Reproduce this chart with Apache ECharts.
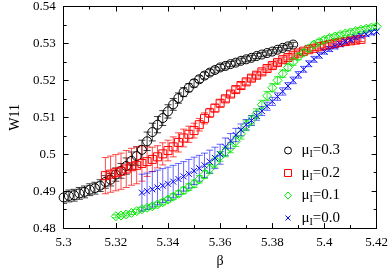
<!DOCTYPE html>
<html><head><meta charset="utf-8">
<script src="https://cdn.jsdelivr.net/npm/echarts@6/dist/echarts.min.js"></script>
<style>html,body{margin:0;padding:0;background:#fff}#c{width:391px;height:273px}</style>
</head><body><div id="c"></div>
<script>
// beta grids: start and step (0.002) per series
const betaStep = 0.002;
const blackStart = 5.300, redStart = 5.316, greenStart = 5.320, blueStart = 5.330;

const blackW = [0.4883,0.4887,0.4889,0.4894,0.4898,0.4904,0.4908,0.4915,0.4925,0.4931,
  0.4945,0.4955,0.4968,0.4982,0.4995,0.5012,0.5035,0.5060,0.5080,0.5098,
  0.5116,0.5135,0.5152,0.5168,0.5180,0.5192,0.5203,0.5213,0.5221,0.5228,
  0.5235,0.5239,0.5244,0.5248,0.5253,0.5257,0.5261,0.5266,0.5270,0.5274,
  0.5278,0.5283,0.5288,0.5292,0.5297];
const blackErr = [0.0016,0.0016,0.0016,0.0016,0.0016,0.0016,0.0016,0.0016,0.0017,0.0017,
  0.0018,0.0020,0.0022,0.0024,0.0025,0.0026,0.0025,0.0024,0.0022,0.0020,
  0.0018,0.0016,0.0014,0.0012,0.0011,0.0010,0.0009,0.0009,0.0008,0.0008,
  0.0008,0.0008,0.0007,0.0007,0.0007,0.0007,0.0007,0.0007,0.0006,0.0006,
  0.0006,0.0006,0.0006,0.0006,0.0006];

const redW = [0.4942,0.4946,0.4950,0.4954,0.4960,0.4966,0.4970,0.4975,
  0.4980,0.4986,0.4993,0.5001,0.5010,0.5020,0.5032,0.5044,0.5054,0.5064,
  0.5080,0.5097,0.5112,0.5125,0.5138,0.5150,0.5163,0.5175,0.5186,0.5196,
  0.5206,0.5214,0.5223,0.5232,0.5240,0.5248,0.5256,0.5262,0.5268,0.5274,
  0.5279,0.5283,0.5287,0.5291,0.5294,0.5297,0.5300,0.5303,0.5305,0.5307,
  0.5309,0.5311];
const redErr = [0.0049,0.0049,0.0049,0.0049,0.0050,0.0050,0.0050,0.0048,
  0.0040,0.0033,0.0030,0.0030,0.0028,0.0027,0.0026,0.0024,0.0022,0.0020,
  0.0017,0.0015,0.0012,0.0010,0.0009,0.0008,0.0008,0.0008,0.0008,0.0008,
  0.0008,0.0008,0.0007,0.0007,0.0007,0.0007,0.0007,0.0007,0.0006,0.0006,
  0.0006,0.0006,0.0006,0.0006,0.0006,0.0006,0.0006,0.0006,0.0006,0.0006,
  0.0006,0.0006];

const greenW = [0.4832,0.4834,0.4837,0.4841,0.4846,0.4851,
  0.4855,0.4859,0.4864,0.4870,0.4877,
  0.4885,0.4893,0.4902,0.4911,0.4920,
  0.4932,0.4945,0.4960,0.4977,0.4994,
  0.5006,0.5018,0.5035,0.5055,0.5078,
  0.5092,0.5110,0.5134,0.5158,0.5180,
  0.5200,0.5218,0.5235,0.5250,0.5264,
  0.5275,0.5287,0.5297,0.5304,0.5310,
  0.5315,0.5319,0.5323,0.5327,0.5330,
  0.5334,0.5337,0.5340,0.5343,0.5346];
const greenErr = [0.0004,0.0004,0.0004,0.0004,0.0005,0.0005,
  0.0005,0.0006,0.0006,0.0007,0.0007,
  0.0008,0.0008,0.0009,0.0009,0.0010,
  0.0010,0.0011,0.0012,0.0012,0.0013,
  0.0013,0.0014,0.0014,0.0014,0.0014,
  0.0013,0.0013,0.0012,0.0012,0.0011,
  0.0010,0.0010,0.0009,0.0009,0.0008,
  0.0008,0.0008,0.0007,0.0007,0.0007,
  0.0007,0.0006,0.0006,0.0006,0.0006,
  0.0006,0.0006,0.0006,0.0006,0.0006];

const blueW = [0.4896,0.4900,0.4905,0.4910,0.4915,0.4920,
  0.4926,0.4933,0.4940,0.4947,0.4955,
  0.4962,0.4970,0.4980,0.4990,0.5000,
  0.5020,0.5036,0.5052,0.5066,0.5080,
  0.5091,0.5104,0.5117,0.5130,0.5143,
  0.5156,0.5170,0.5185,0.5200,0.5215,
  0.5230,0.5245,0.5257,0.5268,0.5278,
  0.5285,0.5292,0.5298,0.5305,0.5310,
  0.5316,0.5321,0.5325,0.5329,0.5332];
const blueErr = [0.0050,0.0049,0.0048,0.0047,0.0046,0.0045,
  0.0044,0.0042,0.0040,0.0039,0.0037,
  0.0035,0.0033,0.0031,0.0029,0.0027,
  0.0024,0.0020,0.0018,0.0016,0.0014,
  0.0013,0.0012,0.0012,0.0011,0.0011,
  0.0010,0.0010,0.0009,0.0009,0.0009,
  0.0008,0.0008,0.0008,0.0008,0.0007,
  0.0007,0.0007,0.0007,0.0007,0.0006,
  0.0006,0.0006,0.0006,0.0006,0.0006];

const legendNames = ['0.3','0.2','0.1','0.0'];
const xTicks = {min:5.30, max:5.42, interval:0.02};
const yTicks = {min:0.48, max:0.54, interval:0.01};

function build(start, W, E){
  return W.map((w,i)=>[+(start + i*betaStep).toFixed(3), w, E[i]]);
}
const xPath = 'path://M0,0L10,10M10,0L0,10';
const xLegendPath = 'path://M-2,-2L-2,-1.99M0,0L10,10M10,0L0,10M12,12L12,12.01';
const sets = [
  {name:'mu03', data:build(blackStart,blackW,blackErr), color:'#000000', bar:'rgba(0,0,0,0.75)', symbol:'circle', icon:'circle', size:9},
  {name:'mu02', data:build(redStart,redW,redErr), color:'#ff0000', bar:'rgba(255,0,0,0.7)', symbol:'rect', icon:'rect', size:8},
  {name:'mu01', data:build(greenStart,greenW,greenErr), color:'#00ee00', bar:'rgba(0,220,0,0.7)', symbol:'diamond', icon:'diamond', size:9},
  {name:'mu00', data:build(blueStart,blueW,blueErr), color:'#0000ff', bar:'rgba(0,0,255,0.6)', symbol:xPath, icon:xLegendPath, size:6}
];

function errRender(color){
  return function(params, api){
    const x = api.value(0), y = api.value(1), e = api.value(2);
    const t = api.coord([x, y+e]), b = api.coord([x, y-e]);
    const hw = 3.5;
    const st = {stroke:color, lineWidth:1, fill:null};
    return {type:'group', children:[
      {type:'line', shape:{x1:t[0],y1:t[1],x2:b[0],y2:b[1]}, style:st},
      {type:'line', shape:{x1:t[0]-hw,y1:t[1],x2:t[0]+hw,y2:t[1]}, style:st},
      {type:'line', shape:{x1:b[0]-hw,y1:b[1],x2:b[0]+hw,y2:b[1]}, style:st}
    ]};
  };
}

const series = [];
sets.forEach((s)=>{
  series.push({type:'custom', name:s.name+'err', data:s.data, renderItem:errRender(s.bar),
    encode:{x:0,y:1}, silent:true, clip:true});
  series.push({type:'scatter', name:s.name, data:s.data.map(d=>[d[0],d[1]]), symbol:s.symbol, symbolSize:s.size,
    itemStyle:{color:'rgba(0,0,0,0)', borderColor:s.color, borderWidth:1, opacity:1}, silent:true});
});

const fmt = v => String(parseFloat(v.toFixed(2)));
const serif = 'Liberation Serif';
const baseX = {type:'value', min:xTicks.min, max:xTicks.max, interval:xTicks.interval,
  axisLine:{show:true, onZero:false, lineStyle:{color:'#000', width:1}},
  axisTick:{inside:true, length:5, lineStyle:{color:'#000'}},
  minorTick:{show:true, splitNumber:2, length:3, lineStyle:{color:'#000'}},
  splitLine:{show:false}};
const baseY = {type:'value', min:yTicks.min, max:yTicks.max, interval:yTicks.interval,
  axisLine:{show:true, onZero:false, lineStyle:{color:'#000', width:1}},
  axisTick:{inside:true, length:5, lineStyle:{color:'#000'}},
  minorTick:{show:true, splitNumber:2, length:3, lineStyle:{color:'#000'}},
  splitLine:{show:false}};

const chart = echarts.init(document.getElementById('c'), null, {renderer:'canvas'});
chart.setOption({
  animation:false,
  grid:{left:45, right:14, top:6, bottom:33},
  xAxis:[
    Object.assign({}, baseX, {position:'bottom', name:'β', nameLocation:'middle', nameGap:20,
      nameTextStyle:{fontFamily:serif, fontSize:14, color:'#000'},
      axisLabel:{formatter:fmt, fontFamily:serif, fontSize:13, color:'#000', margin:8}}),
    Object.assign({}, baseX, {position:'top', axisLabel:{show:false}})
  ],
  yAxis:[
    Object.assign({}, baseY, {position:'left', name:'W11', nameLocation:'middle', nameGap:36, nameRotate:90,
      nameTextStyle:{fontFamily:serif, fontSize:14, color:'#000'},
      axisLabel:{formatter:fmt, fontFamily:serif, fontSize:13, color:'#000', margin:8}}),
    Object.assign({}, baseY, {position:'right', axisLabel:{show:false}})
  ],
  legend:{
    orient:'vertical', left:279, top:138, itemWidth:7, itemHeight:7, itemGap:6,
    data: sets.map((s,i)=>({name:s.name, icon:s.icon,
      itemStyle:{color:'rgba(0,0,0,0)', borderColor:s.color, borderWidth:1}})),
    formatter: function(n){ const i = sets.findIndex(s=>s.name===n); return '{m|μ}{s|I}{t|=' + legendNames[i] + '}'; },
    textStyle:{fontFamily:serif, fontSize:15, color:'#000', padding:[0,0,0,5],
      rich:{m:{fontFamily:serif, fontSize:15, color:'#000'},
            s:{fontFamily:serif, fontSize:10, color:'#000', padding:[8,0,0,0]},
            t:{fontFamily:serif, fontSize:15, color:'#000'}}},
    selectedMode:false
  },
  series: series
});
</script></body></html>
